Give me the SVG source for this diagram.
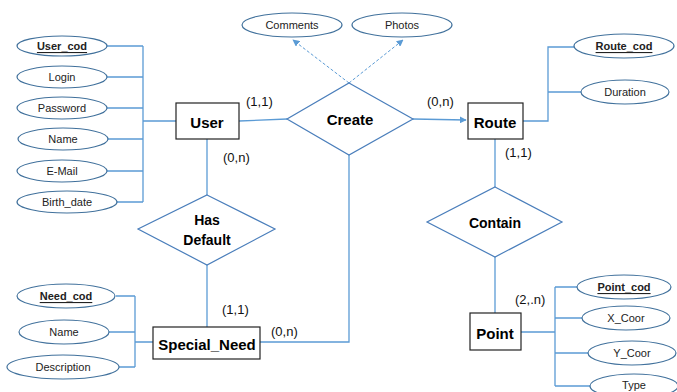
<svg xmlns="http://www.w3.org/2000/svg" width="677" height="392" viewBox="0 0 677 392">
  <style>
    .ent rect { fill: #fff; stroke: #222; stroke-width: 1.2; }
    .ent text { font: bold 15px "Liberation Sans", Arial, sans-serif; text-anchor: middle; dominant-baseline: central; fill: #000; }
    .rel polygon { fill: #fff; stroke: #4a7ebb; stroke-width: 1.2; }
    .rel text { font: bold 14px "Liberation Sans", Arial, sans-serif; text-anchor: middle; dominant-baseline: central; fill: #000; }
    .attr ellipse { fill: #fff; stroke: #41719c; stroke-width: 1.2; }
    .attr text { font: 11px "Liberation Sans", Arial, sans-serif; text-anchor: middle; dominant-baseline: central; fill: #222; }
    .attr text.key { font-weight: bold; text-decoration: underline; }
    .card { font: 13px "Liberation Sans", Arial, sans-serif; fill: #111; }
    .conn path, .conn line { fill: none; stroke: #5b9bd5; stroke-width: 1.3; }
    .conn .dash { stroke-dasharray: 3 2; stroke-width: 1; }
  </style>
  <defs>
    <marker id="arrow" viewBox="0 0 10 10" refX="9" refY="5" markerWidth="7" markerHeight="7" orient="auto" markerUnits="userSpaceOnUse">
      <path d="M0,0 L10,5 L0,10 z" fill="#5b9bd5"/>
    </marker>
  </defs>

  <!-- connectors -->
  <g id="connectors" class="conn">
    <!-- User attributes bus -->
    <path d="M107,46 H143 M107,77 H143 M107,108 H143 M107,139 H143 M107,171 H143 M117,202 H143 M143,46 V202 M143,121 H176"/>
    <!-- User - Create -->
    <line x1="239" y1="121" x2="287" y2="119"/>
    <!-- Create - Route -->
    <line x1="413" y1="119" x2="466" y2="120" marker-end="url(#arrow)"/>
    <!-- Create attributes (dashed) -->
    <line class="dash" x1="349" y1="83" x2="293" y2="40" marker-end="url(#arrow)"/>
    <line class="dash" x1="349" y1="83" x2="403" y2="40" marker-end="url(#arrow)"/>
    <!-- Route attributes -->
    <path d="M523,121 H548 V47 H574 M548,92 H581"/>
    <!-- Route - Contain - Point -->
    <line x1="495" y1="139" x2="495" y2="187"/>
    <line x1="495" y1="257" x2="495" y2="313"/>
    <!-- Point attributes -->
    <path d="M521,332 H555 M555,287 V386 M555,287 H577 M555,318 H582 M555,353 H589 M555,386 H591"/>
    <!-- User - Has Default - Special_Need -->
    <line x1="207" y1="139" x2="207" y2="195"/>
    <line x1="207" y1="265" x2="207" y2="327"/>
    <!-- Create - Special_Need -->
    <path d="M349,155 V342 H260"/>
    <!-- Special_Need attributes -->
    <path d="M116,296 H135 M109,332 H135 M119,367 H135 M135,296 V367 M135,342 H153"/>
  </g>

  <!-- cardinalities -->
  <text class="card" x="246" y="106">(1,1)</text>
  <text class="card" x="427" y="106">(0,n)</text>
  <text class="card" x="223" y="162">(0,n)</text>
  <text class="card" x="505" y="157">(1,1)</text>
  <text class="card" x="515" y="304">(2,.n)</text>
  <text class="card" x="222" y="314">(1,1)</text>
  <text class="card" x="271" y="336">(0,n)</text>

  <!-- User -->
  <g id="user" class="ent">
    <rect x="176" y="103" width="63" height="36"/>
    <text x="207" y="122">User</text>
  </g>
  <g id="user_cod" class="attr"><ellipse cx="62" cy="46" rx="45" ry="10"/><text class="key" x="62" y="46">User_cod</text></g>
  <g id="login" class="attr"><ellipse cx="62" cy="77" rx="45" ry="11"/><text x="62" y="77">Login</text></g>
  <g id="password" class="attr"><ellipse cx="62" cy="108" rx="45" ry="11"/><text x="62" y="108">Password</text></g>
  <g id="user_name" class="attr"><ellipse cx="63" cy="139" rx="45" ry="11"/><text x="63" y="139">Name</text></g>
  <g id="email" class="attr"><ellipse cx="62" cy="171" rx="45" ry="11"/><text x="62" y="171">E-Mail</text></g>
  <g id="birth_date" class="attr"><ellipse cx="67" cy="202" rx="50" ry="11"/><text x="67" y="202">Birth_date</text></g>

  <!-- Create -->
  <g id="create" class="rel">
    <polygon points="349,83 413,119 349,155 287,119"/>
    <text x="350" y="119" style="font-size:15px">Create</text>
  </g>
  <g id="comments" class="attr"><ellipse cx="292" cy="25" rx="50" ry="12"/><text x="292" y="25">Comments</text></g>
  <g id="photos" class="attr"><ellipse cx="402" cy="25" rx="50" ry="12"/><text x="402" y="25">Photos</text></g>

  <!-- Route -->
  <g id="route" class="ent">
    <rect x="468" y="103" width="55" height="36"/>
    <text x="495" y="122">Route</text>
  </g>
  <g id="route_cod" class="attr"><ellipse cx="624" cy="46" rx="50" ry="12"/><text class="key" x="624" y="46">Route_cod</text></g>
  <g id="duration" class="attr"><ellipse cx="625" cy="92" rx="44" ry="12"/><text x="625" y="92">Duration</text></g>

  <!-- Contain -->
  <g id="contain" class="rel">
    <polygon points="495,187 562,222 495,257 427,222"/>
    <text x="495" y="223">Contain</text>
  </g>

  <!-- Point -->
  <g id="point" class="ent">
    <rect x="470" y="313" width="51" height="37"/>
    <text x="495" y="333">Point</text>
  </g>
  <g id="point_cod" class="attr"><ellipse cx="624" cy="287" rx="47" ry="12"/><text class="key" x="624" y="287">Point_cod</text></g>
  <g id="x_coor" class="attr"><ellipse cx="626" cy="318" rx="44" ry="12"/><text x="626" y="318">X_Coor</text></g>
  <g id="y_coor" class="attr"><ellipse cx="632" cy="353" rx="44" ry="12"/><text x="632" y="353">Y_Coor</text></g>
  <g id="type" class="attr"><ellipse cx="634" cy="386" rx="44" ry="12"/><text x="634" y="385">Type</text></g>

  <!-- Has Default -->
  <g id="has_default" class="rel">
    <polygon points="207,195 275,229 207,265 138,229"/>
    <text x="207" y="220">Has</text>
    <text x="207" y="240">Default</text>
  </g>

  <!-- Special_Need -->
  <g id="special_need" class="ent">
    <rect x="153" y="327" width="107" height="32"/>
    <text x="207" y="344">Special_Need</text>
  </g>
  <g id="need_cod" class="attr"><ellipse cx="66" cy="296" rx="49" ry="12"/><text class="key" x="66" y="296">Need_cod</text></g>
  <g id="sn_name" class="attr"><ellipse cx="64" cy="332" rx="45" ry="12"/><text x="64" y="332">Name</text></g>
  <g id="description" class="attr"><ellipse cx="63" cy="367" rx="56" ry="12"/><text x="63" y="367">Description</text></g>
</svg>
